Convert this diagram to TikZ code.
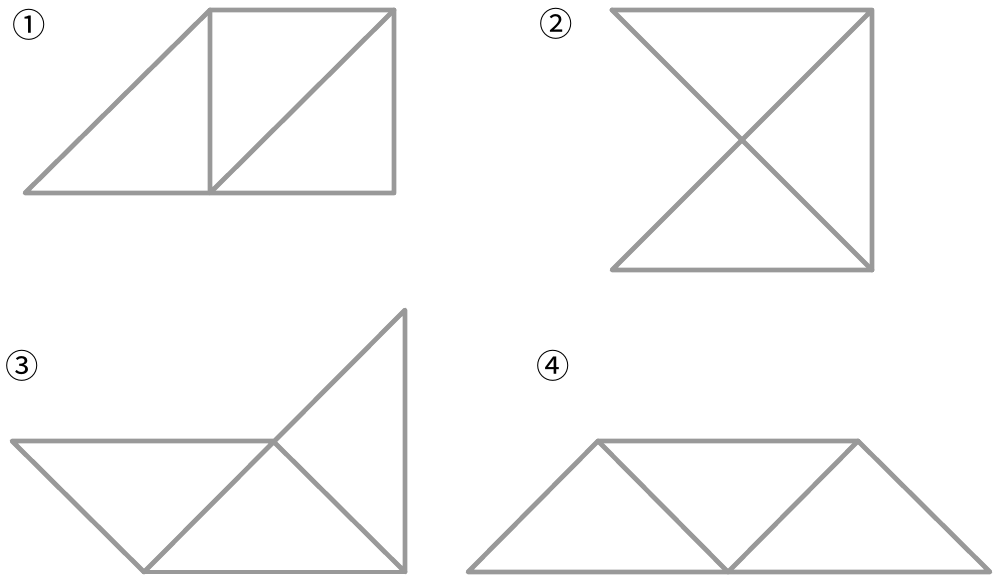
\documentclass[tikz,border=0pt]{standalone}
\usepackage{fontspec}
\newfontfamily\numfont{Noto Sans CJK JP}
\begin{document}
\begin{tikzpicture}[x=0.02cm, y=-0.02cm,
    piece/.style={line width=2.7pt, color=black!40, line join=round, line cap=round},
    num/.style={font=\numfont\fontsize{19}{19}\selectfont, inner sep=0pt}]
			%%%%% START %%%%%
			\useasboundingbox (0, 0) rectangle (1000, 581);
			
			% figure 1
			\node[num] (n1) at (29.5, 25) {①};
			\draw[piece] (25, 193) -- (210, 10) -- (394, 10) -- (394, 193) -- cycle;
			\draw[piece] (210, 10) -- (210, 193) -- (394, 10);
			
			% figure 2
			\node[num] (n2) at (556, 24) {②};
			\draw[piece] (612, 10) -- (872, 10) -- (872, 270) -- (612, 270) -- (872, 10);
			\draw[piece] (612, 10) -- (872, 270);
			
			% figure 3
			\node[num] (n3) at (22, 366) {③};
			\draw[piece] (12, 441) -- (273, 441) -- (405, 572) -- (405, 310) -- (144, 572) -- cycle;
			\draw[piece] (144, 572) -- (405, 572);
			
			% figure 4
			\node[num] (n4) at (553, 366) {④};
			\draw[piece] (468, 572) -- (598, 441) -- (858, 441) -- (990, 572) -- cycle;
			\draw[piece] (598, 441) -- (728, 572) -- (858, 441);
			
			%%%%% END %%%%%
		\end{tikzpicture}
\end{document}
